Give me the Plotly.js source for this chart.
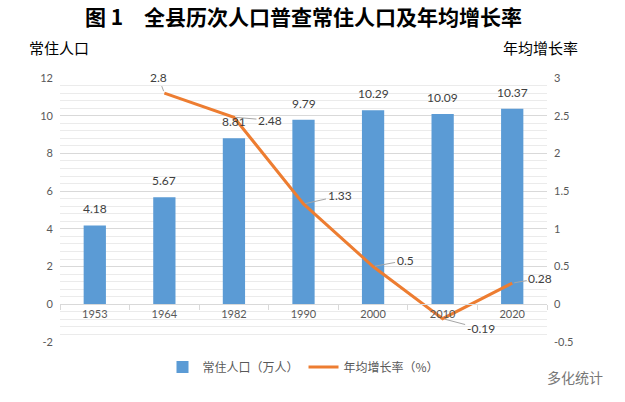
<!DOCTYPE html>
<html>
<head>
<meta charset="utf-8">
<script src="https://cdn.plot.ly/plotly-3.0.1.min.js"></script>
<style>html,body{margin:0;padding:0;background:#fff;}#chart{width:625px;height:402px;}</style>
</head>
<body>
<div id="chart"></div>
<script>
const years = ['1953', '1964', '1982', '1990', '2000', '2010', '2020'];
const population = [4.18, 5.67, 8.81, 9.79, 10.29, 10.09, 10.37];
const growthRate = [null, 2.8, 2.48, 1.33, 0.5, -0.19, 0.28];
const popName = '常住人口（万人）';
const rateName = '年均增长率（%）';
const leftTickVals = [-2, 0, 2, 4, 6, 8, 10, 12];
const leftTickText = ['-2', '0', '2', '4', '6', '8', '10', '12'];
const rightTickVals = [-0.5, 0, 0.5, 1, 1.5, 2, 2.5, 3];
const rightTickText = ['-0.5', '0', '0.5', '1', '1.5', '2', '2.5', '3'];

const numFont = 'Lato, "Noto Sans CJK SC", sans-serif';
const cjkFont = '"Noto Sans CJK SC", sans-serif';

// label offsets (pixels) for growth-rate callouts
const labelOffsets = {
  '1964': [-6, -16], '1982': [36, 3], '1990': [36, -8],
  '2000': [32, -6], '2010': [38, 10], '2020': [28, -5]
};

const annotations = [];
// bar value labels
years.forEach((yr, i) => {
  annotations.push({
    x: i, y: population[i], xref: 'x', yref: 'y',
    text: String(population[i]), showarrow: false,
    yanchor: 'bottom', yshift: 7,
    font: {family: numFont, size: 12, color: '#404040'}
  });
});
// growth-rate callouts
years.forEach((yr, i) => {
  if (growthRate[i] === null) return;
  const off = labelOffsets[yr];
  annotations.push({
    x: i, y: growthRate[i], xref: 'x', yref: 'y2',
    text: String(growthRate[i]),
    showarrow: true, arrowhead: 0, arrowwidth: 1, arrowcolor: '#a6a6a6',
    ax: off[0], ay: off[1], standoff: 2,
    font: {family: numFont, size: 12, color: '#404040'}
  });
});

annotations.push({
  text: '常住人口', xref: 'paper', yref: 'paper', x: -0.068, y: 1.114,
  xanchor: 'left', yanchor: 'middle', showarrow: false,
  font: {family: cjkFont, size: 15, color: '#000'}
});
annotations.push({
  text: '年均增长率', xref: 'paper', yref: 'paper', x: 1.068, y: 1.114,
  xanchor: 'right', yanchor: 'middle', showarrow: false,
  font: {family: cjkFont, size: 15, color: '#000'}
});
annotations.push({
  text: '多化统计', xref: 'paper', yref: 'paper', x: 1.119, y: -0.133,
  xanchor: 'right', yanchor: 'middle', showarrow: false,
  font: {family: cjkFont, size: 14, color: '#777'}
});

const traces = [
  {
    type: 'bar', name: popName, x: years, y: population,
    marker: {color: '#5b9bd5'}, width: 0.32,
    hoverinfo: 'skip'
  },
  {
    type: 'scatter', mode: 'lines', name: rateName, x: years, y: growthRate,
    yaxis: 'y2', line: {color: '#ed7d31', width: 3}, connectgaps: false,
    hoverinfo: 'skip'
  }
];

const layout = {
  width: 625, height: 402,
  margin: {l: 60, r: 78, t: 78, b: 60},
  paper_bgcolor: '#fff', plot_bgcolor: '#fff',
  title: {
    text: '<b>图 1　全县历次人口普查常住人口及年均增长率</b>',
    x: 0.5, xref: 'paper', y: 0.957, yref: 'container', xanchor: 'center', yanchor: 'middle',
    font: {family: cjkFont, size: 21, color: '#000'}
  },
  xaxis: {
    type: 'category', categoryorder: 'array', categoryarray: years,
    range: [-0.5, years.length - 0.5], autorange: false,
    anchor: 'free', position: 2 / 14,
    showline: true, linecolor: '#d9d9d9', linewidth: 1,
    ticks: 'outside', tickson: 'boundaries', ticklen: 5, tickcolor: '#d9d9d9',
    showgrid: false, zeroline: false,
    tickfont: {family: numFont, size: 11, color: '#595959'}
  },
  yaxis: {
    range: [-2, 12], tickvals: leftTickVals, ticktext: leftTickText, anchor: 'x',
    showgrid: true, gridcolor: '#d9d9d9', gridwidth: 1,
    minor: {dtick: 0.4, tick0: 0, showgrid: true, gridcolor: '#ebebeb', gridwidth: 1},
    zeroline: false, showline: false, ticks: '',
    tickfont: {family: numFont, size: 11, color: '#595959'},
    ticklabelstandoff: 6
  },
  yaxis2: {
    overlaying: 'y', side: 'right', anchor: 'x', range: [-0.5, 3],
    tickvals: rightTickVals, ticktext: rightTickText,
    showgrid: false, zeroline: false, showline: false, ticks: '',
    tickfont: {family: numFont, size: 11, color: '#595959'},
    ticklabelstandoff: 6
  },
  showlegend: true,
  legend: {
    orientation: 'h', x: 0.5, xanchor: 'center', y: -0.095, yanchor: 'middle',
    font: {family: cjkFont, size: 12, color: '#595959'}
  },
  annotations: annotations
};

Plotly.newPlot('chart', traces, layout, {displayModeBar: false, staticPlot: true});
</script>
</body>
</html>
